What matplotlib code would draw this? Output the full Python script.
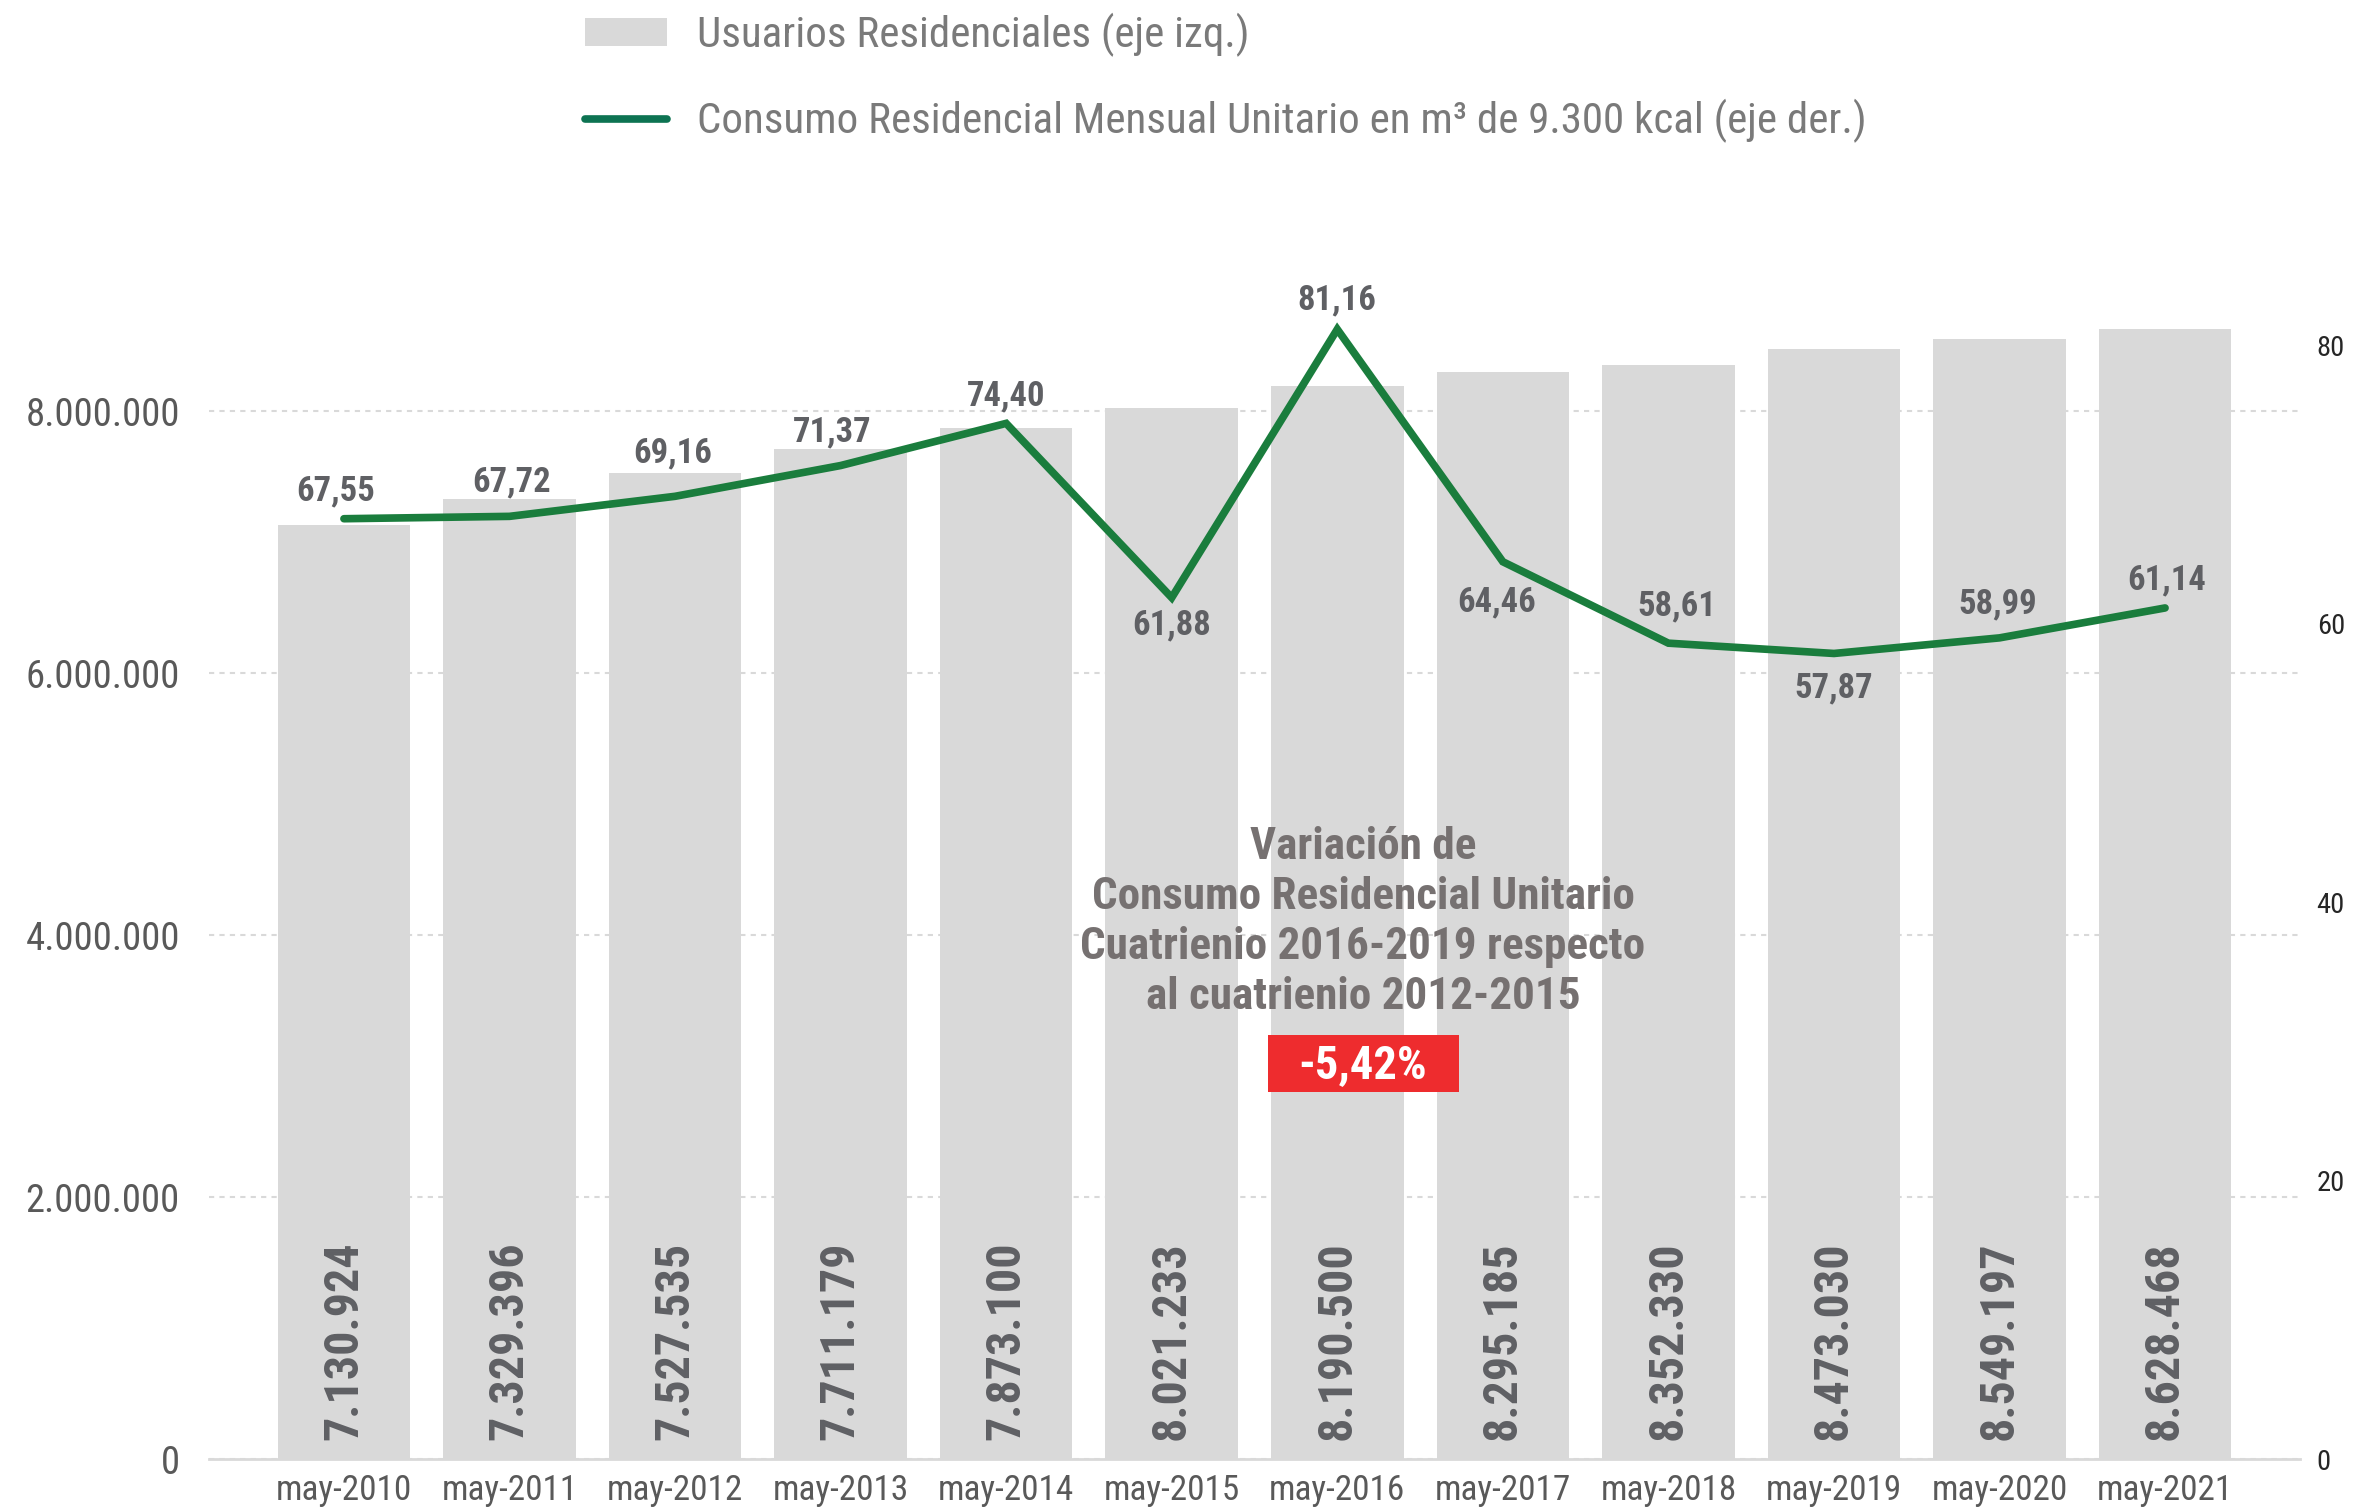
import matplotlib
matplotlib.use("Agg")
import matplotlib.pyplot as plt
from matplotlib import font_manager
from matplotlib.patches import Rectangle
from matplotlib.ticker import FuncFormatter

# ---------------- data ----------------
periodos = ["may-2010", "may-2011", "may-2012", "may-2013", "may-2014", "may-2015",
            "may-2016", "may-2017", "may-2018", "may-2019", "may-2020", "may-2021"]
usuarios = [7130924, 7329396, 7527535, 7711179, 7873100, 8021233,
            8190500, 8295185, 8352330, 8473030, 8549197, 8628468]
consumo = [67.55, 67.72, 69.16, 71.37, 74.40, 61.88,
           81.16, 64.46, 58.61, 57.87, 58.99, 61.14]
left_ticks = [0, 2000000, 4000000, 6000000, 8000000]
right_ticks = [0, 20, 40, 60, 80]
serie_barras = "Usuarios Residenciales (eje izq.)"
serie_linea = "Consumo Residencial Mensual Unitario en m³ de 9.300 kcal (eje der.)"
nota = "Variación de\nConsumo Residencial Unitario\nCuatrienio 2016-2019 respecto\nal cuatrienio 2012-2015"
variacion = "-5,42%"

# label placement (style): pixel offsets of each line label from its point
lbl_dy = [28, 34, 43, 34, 27, -27, 29, -40, 37, -34, 34, 28]
lbl_dx = [-8, 2, -2, -8, 0, 0, 0, -6, 8, 0, -2, 2]

# ---------------- fonts ----------------
names = {f.name for f in font_manager.fontManager.ttflist}
if "Roboto Condensed" in names:
    FONT, K = "Roboto Condensed", 1.0
else:
    FONT, K = "Roboto", 0.88
plt.rcParams["font.family"] = [FONT, "DejaVu Sans"]

W, H = 2375, 1510
PT = 0.72  # points per pixel at dpi 100
fig = plt.figure(figsize=(W / 100, H / 100), dpi=100)
fig.patch.set_facecolor("white")

x0, x1, ybot, ytop = 209, 2300, 1459, 280
ax = fig.add_axes([x0 / W, (H - ybot) / H, (x1 - x0) / W, (ybot - ytop) / H])
ax2 = ax.twinx()

BAR = "#d9d9d9"
GREEN = "#1a7d3d"
GRAY_TXT = "#5f6064"

xs = list(range(len(periodos)))
bars = ax.bar(xs, usuarios, width=0.8, color=BAR, zorder=2, label=serie_barras)
ax.set_xlim(-0.815, len(periodos) - 1 + 0.815)
ax.set_ylim(0, 9000000)
ax.set_yticks(left_ticks)
ax.yaxis.set_major_formatter(FuncFormatter(lambda v, p: f"{int(v):,}".replace(",", ".")))
ax.set_xticks(xs)
ax.set_xticklabels(periodos)
ax.set_axisbelow(True)
ax.yaxis.grid(True, linestyle=(0, (2.5, 2.5)), color="#d9d9d9", linewidth=1.5, zorder=0)
for s in ["top", "right", "left"]:
    ax.spines[s].set_visible(False)
ax.spines["bottom"].set_color("#d9d9d9")
ax.spines["bottom"].set_linewidth(2)
ax.tick_params(axis="y", length=0, pad=21, labelsize=27.9 * K, labelcolor="#595959")
ax.tick_params(axis="x", length=0, pad=11, labelsize=25.4 * K, labelcolor="#595959")

for i, v in enumerate(usuarios):
    ax.annotate(f"{v:,}".replace(",", "."), xy=(i, 0), xytext=(0, 14),
                textcoords="offset points", rotation=90, ha="center", va="bottom",
                fontsize=34.6 * K, fontweight="bold", color=GRAY_TXT, zorder=3)

line, = ax2.plot(xs, consumo, color=GREEN, linewidth=5.5, solid_capstyle="round",
                 solid_joinstyle="miter", zorder=4, label=serie_linea)
ax2.set_ylim(0, 84.7)
ax2.set_yticks(right_ticks)
for s in ["top", "right", "left", "bottom"]:
    ax2.spines[s].set_visible(False)
ax2.tick_params(axis="y", length=0, pad=12, labelsize=20.5 * K, labelcolor="#262626")

for i, v in enumerate(consumo):
    ax2.annotate(f"{v:.2f}".replace(".", ","), xy=(i, v),
                 xytext=(lbl_dx[i] * PT, lbl_dy[i] * PT), textcoords="offset points",
                 ha="center", va="center", fontsize=24.9 * K, fontweight="bold",
                 color=GRAY_TXT, zorder=5)

# annotation block
fig.text(1363 / W, 1 - 922 / H, nota, ha="center", va="center", fontsize=32.5 * K,
         fontweight="bold", color="#767171", linespacing=1.25, zorder=10)
fig.patches.append(Rectangle((1268 / W, 1 - 1092 / H), 191 / W, 57 / H,
                             transform=fig.transFigure, facecolor="#ee2c2e",
                             edgecolor="none", zorder=9))
fig.text(1363 / W, 1 - 1065 / H, variacion, ha="center", va="center",
         fontsize=33.5 * K, fontweight="bold", color="white", zorder=11)

# legend
leg = fig.legend(handles=[bars, line], labels=[serie_barras, serie_linea],
                 loc="upper left", bbox_to_anchor=(585 / W, 1 - 13 / H),
                 frameon=False, fontsize=31 * K, labelcolor="#7a7a7a",
                 handlelength=1.9 / K, handleheight=0.6 / K, handletextpad=0.7 / K,
                 labelspacing=0.97 / K, borderpad=0, borderaxespad=0)
if leg.get_lines():
    leg.get_lines()[0].set_color("#0d7352")

fig.savefig("out.png", dpi=100, facecolor="white")
